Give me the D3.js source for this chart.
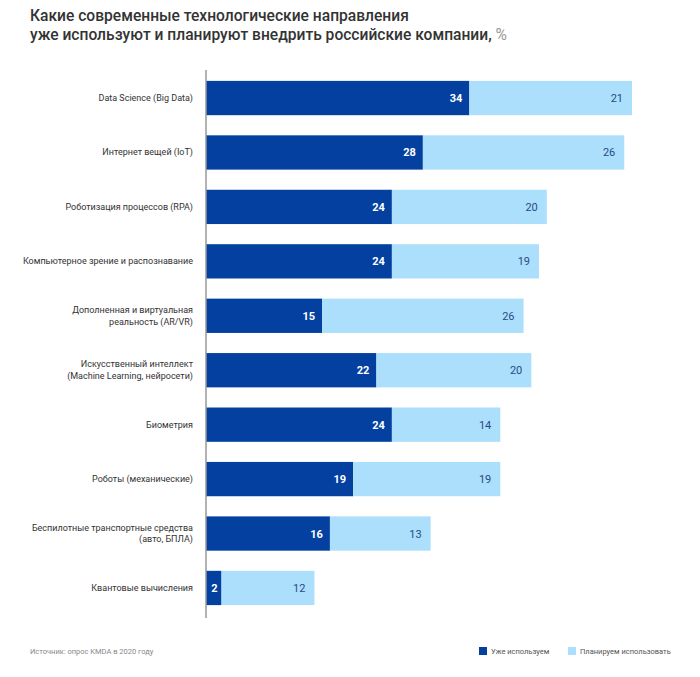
<!DOCTYPE html>
<html><head><meta charset="utf-8">
<script src="https://cdn.jsdelivr.net/npm/d3@7/dist/d3.min.js"></script>
<style>body{margin:0;background:#fff}</style>
</head><body>
<svg id="c" width="700" height="677"></svg>
<script>
const categories = [
  ["Data Science (Big Data)"],
  ["Интернет вещей (IoT)"],
  ["Роботизация процессов (RPA)"],
  ["Компьютерное зрение и распознавание"],
  ["Дополненная и виртуальная", "реальность (AR/VR)"],
  ["Искусственный интеллект", "(Machine Learning, нейросети)"],
  ["Биометрия"],
  ["Роботы (механические)"],
  ["Беспилотные транспортные средства", "(авто, БПЛА)"],
  ["Квантовые вычисления"]
];
const using = [34, 28, 24, 24, 15, 22, 24, 19, 16, 2];
const planning = [21, 26, 20, 19, 26, 20, 14, 19, 13, 12];
const seriesNames = ["Уже используем", "Планируем использовать"];
const colors = ["#0340a0", "#abdffb"];

const svg = d3.select("#c");
const font = "Roboto, sans-serif";
const x = d3.scaleLinear().domain([0, 55]).range([206, 632]);
const y = d3.scaleBand().domain(d3.range(categories.length)).range([70, 616]).paddingInner(0.37).paddingOuter(0.2);

// title
const t1 = svg.append("text").attr("x", 30).attr("y", 21).attr("font-family", font).attr("font-size", 15.6).attr("font-weight", 500).attr("fill", "#333")
  .text("Какие современные технологические направления");
const t = svg.append("text").attr("x", 30).attr("y", 39.5).attr("font-family", font).attr("font-size", 15.6).attr("font-weight", 500).attr("fill", "#333");
t.append("tspan").text("уже используют и планируют внедрить российские компании, ");
t.append("tspan").attr("font-weight", 400).attr("fill", "#999").text("%");

const g = svg.append("g");
categories.forEach((c, i) => {
  const y0 = y(i), h = y.bandwidth();
  g.append("rect").attr("x", x(0)).attr("y", y0).attr("width", x(using[i]) - x(0)).attr("height", h).attr("fill", colors[0]);
  g.append("rect").attr("x", x(using[i])).attr("y", y0).attr("width", x(using[i] + planning[i]) - x(using[i])).attr("height", h).attr("fill", colors[1]);
  g.append("text").attr("x", x(using[i]) - (using[i] < 5 ? 4 : 7)).attr("y", y0 + h / 2 + 4).attr("text-anchor", "end")
    .attr("font-family", font).attr("font-size", 11).attr("font-weight", 700).attr("fill", "#fff").text(using[i]);
  g.append("text").attr("x", x(using[i] + planning[i]) - 9).attr("y", y0 + h / 2 + 4).attr("text-anchor", "end")
    .attr("font-family", font).attr("font-size", 11).attr("font-weight", 400).attr("fill", "#2a4a85").text(planning[i]);
  const lbl = g.append("text").attr("text-anchor", "end").attr("font-family", font).attr("font-size", 9).attr("fill", "#333");
  const n = c.length;
  c.forEach((line, k) => {
    lbl.append("tspan").attr("x", 193).attr("y", y0 + h / 2 + 3 + (k - (n - 1) / 2) * 11.5).text(line);
  });
});

// axis line
svg.append("line").attr("x1", 206).attr("x2", 206).attr("y1", 70).attr("y2", 618).attr("stroke", "#999").attr("stroke-width", 1.5);

// source
svg.append("text").attr("x", 30).attr("y", 654).attr("font-family", font).attr("font-size", 7.5).attr("fill", "#888").text("Источник: опрос KMDA в 2020 году");

// legend
const lx = [479, 568];
seriesNames.forEach((s, i) => {
  svg.append("rect").attr("x", lx[i]).attr("y", 647).attr("width", 8).attr("height", 8).attr("fill", colors[i]);
  svg.append("text").attr("x", lx[i] + 12).attr("y", 654).attr("font-family", font).attr("font-size", 7.5).attr("fill", "#555").text(s);
});
</script>
</body></html>
